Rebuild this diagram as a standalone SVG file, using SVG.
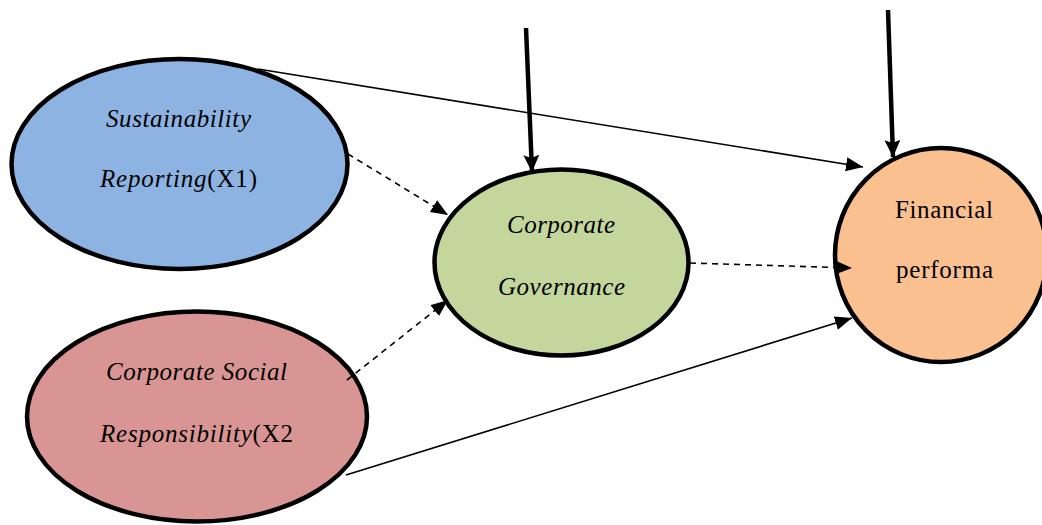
<svg xmlns="http://www.w3.org/2000/svg" width="1042" height="525" viewBox="0 0 1042 525">
<defs>
<style>
.node{stroke:#000;stroke-width:4.5}
.t{font-family:"Liberation Serif","Times New Roman",serif;font-size:25px;fill:#000}
.i{font-style:italic}
.thin{stroke:#000;stroke-width:1.6;fill:none}
.dash{stroke:#000;stroke-width:1.6;fill:none;stroke-dasharray:6 5}
.thick{stroke:#000;stroke-width:4.5;fill:none}
</style>
<marker id="ah" markerUnits="userSpaceOnUse" markerWidth="20" markerHeight="16" refX="17" refY="7" orient="auto">
<path d="M0,0 L17,7 L0,14 Z" fill="#000"/>
</marker>
<marker id="ahk" markerUnits="userSpaceOnUse" markerWidth="20" markerHeight="18" refX="17" refY="8" orient="auto">
<path d="M0,0 L17,8 L0,16 L3,8 Z" fill="#000"/>
</marker>
</defs>
<rect width="1042" height="525" fill="#fff"/>
<g id="sustainability">
<ellipse class="node" cx="179.5" cy="164" rx="168" ry="105" fill="#8DB3E2"/>
<text class="t i" x="106" y="127" textLength="145" lengthAdjust="spacing">Sustainability</text>
<text class="t" x="100" y="187" textLength="157" lengthAdjust="spacing"><tspan class="i">Reporting</tspan>(X1)</text>
</g>
<g id="csr">
<ellipse class="node" cx="197" cy="416.5" rx="170" ry="105" fill="#D99594"/>
<text class="t i" x="106" y="380" textLength="181" lengthAdjust="spacing">Corporate Social</text>
<text class="t" x="100" y="442" textLength="193" lengthAdjust="spacing"><tspan class="i">Responsibility</tspan>(X2</text>
</g>
<g id="governance">
<ellipse class="node" cx="561.5" cy="262.5" rx="127" ry="93" fill="#C3D69B"/>
<text class="t i" x="507" y="233" textLength="108" lengthAdjust="spacing">Corporate</text>
<text class="t i" x="498" y="295" textLength="127" lengthAdjust="spacing">Governance</text>
</g>
<g id="financial">
<ellipse class="node" cx="941" cy="255" rx="106" ry="107" fill="#FAC090"/>
<text class="t" x="895" y="218" textLength="98" lengthAdjust="spacing">Financial</text>
<text class="t" x="896" y="278" textLength="97" lengthAdjust="spacing">performa</text>
</g>
<g id="connectors">
<line class="thin" x1="258" y1="69" x2="863" y2="167" marker-end="url(#ah)"/>
<line class="dash" x1="348" y1="154" x2="448" y2="215" marker-end="url(#ah)"/>
<line class="dash" x1="347" y1="380" x2="448" y2="300" marker-end="url(#ah)"/>
<line class="thin" x1="346" y1="475" x2="852" y2="318" marker-end="url(#ah)"/>
<line class="dash" x1="690" y1="263" x2="852" y2="268" marker-end="url(#ah)"/>
<line class="thick" x1="526" y1="28" x2="532" y2="172" marker-end="url(#ahk)"/>
<line class="thick" x1="888" y1="10" x2="893" y2="157" marker-end="url(#ahk)"/>
</g>
</svg>
